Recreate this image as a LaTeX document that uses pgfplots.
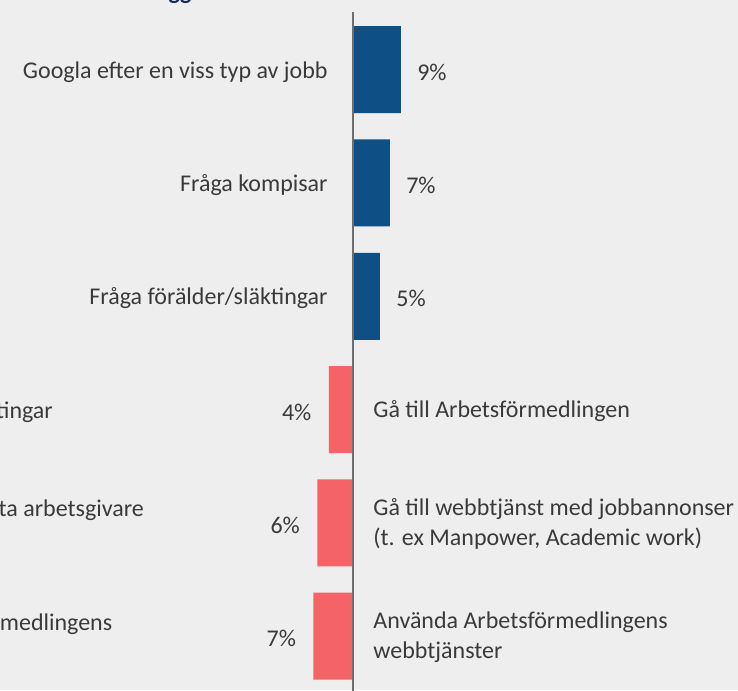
\documentclass[border=0pt]{standalone}
\usepackage{fontspec}
\setmainfont{Carlito}
\usepackage{pgfplots}
\usepackage{pgfplotstable}
\pgfplotsset{compat=1.18}
\definecolor{barblue}{RGB}{14,79,134}
\definecolor{barred}{RGB}{244,99,101}
\definecolor{bggray}{RGB}{238,238,238}
\definecolor{axisgray}{RGB}{110,110,110}
\definecolor{txtgray}{RGB}{58,58,58}
\definecolor{titlenavy}{RGB}{22,40,96}

% row = position from the top, val = bar length in %, lab = printed value
\pgfplotstableread{
row val lab
0 8.7 9
1 6.7 7
2 4.9 5
}\blueData
\pgfplotstableread{
row val lab
3 -4.4 4
4 -6.5 6
5 -7.2 7
}\redData

\begin{document}
\begin{tikzpicture}[
  lbl/.style={font=\fontsize{12}{15}\selectfont, text=txtgray, inner sep=0pt},
]
\fill[bggray] (0,0) rectangle (369pt,345pt);
\begin{axis}[
  at={(0,0)}, anchor=south west,
  scale only axis,
  width=369pt, height=345pt,
  xmin=-64.18, xmax=70.0,
  ymin=-0.615, ymax=5.475,
  y dir=reverse,
  axis lines=none,
  clip=false,
  xbar, bar shift=0pt, bar width=0.768,
]
% positive bars (blue)
\addplot[
  xbar, fill=barblue, draw=none,
  point meta=explicit symbolic,
  nodes near coords={\pgfplotspointmeta\%},
  every node near coord/.append style={lbl, anchor=west, xshift=8pt, yshift=-1.3pt},
] table[x=val, y=row, meta=lab] {\blueData};
% negative bars (red)
\addplot[
  xbar, fill=barred, draw=none,
  point meta=explicit symbolic,
  nodes near coords={\pgfplotspointmeta\%},
  every node near coord/.append style={lbl, anchor=east, xshift=-8.5pt, yshift=-1.3pt},
] table[x=val, y=row, meta=lab] {\redData};

% zero line
\draw[axisgray, line width=1pt] (axis cs:0,-0.51) -- (axis cs:0,5.6);

% category labels
\node[lbl, anchor=east] at (axis cs:-4.545,0.02) {Googla efter en viss typ av jobb};
\node[lbl, anchor=east] at (axis cs:-4.545,1.02) {Fråga kompisar};
\node[lbl, anchor=east] at (axis cs:-4.545,2.02) {Fråga förälder/släktingar};
\node[lbl, anchor=west] at (axis cs:3.636,3.01) {Gå till Arbetsförmedlingen};
\node[lbl, anchor=west, align=left] at (axis cs:3.636,4.01)
  {Gå till webbtjänst med jobbannonser\\(t. ex Manpower, Academic work)};
\node[lbl, anchor=west, align=left] at (axis cs:3.636,5.01)
  {Använda Arbetsförmedlingens\\webbtjänster};

% labels of the neighbouring panel, cut by the frame
\node[lbl, anchor=east] at (axis cs:-54.5,3.02) {Fråga förälder/släktingar};
\node[lbl, anchor=east] at (axis cs:-37.95,3.886) {Kontakta arbetsgivare};
\node[lbl, anchor=east] at (axis cs:-43.7,4.893) {Använda Arbetsförmedlingens};

% title above, cut by the frame
\node[anchor=base west, inner sep=0pt, text=titlenavy,
  font=\bfseries\fontsize{12}{15}\selectfont] at (axis cs:-33.6,-0.622) {gg};
\end{axis}
\pgfresetboundingbox
\useasboundingbox (0,0) rectangle (369pt,345pt);
\end{tikzpicture}
\end{document}
